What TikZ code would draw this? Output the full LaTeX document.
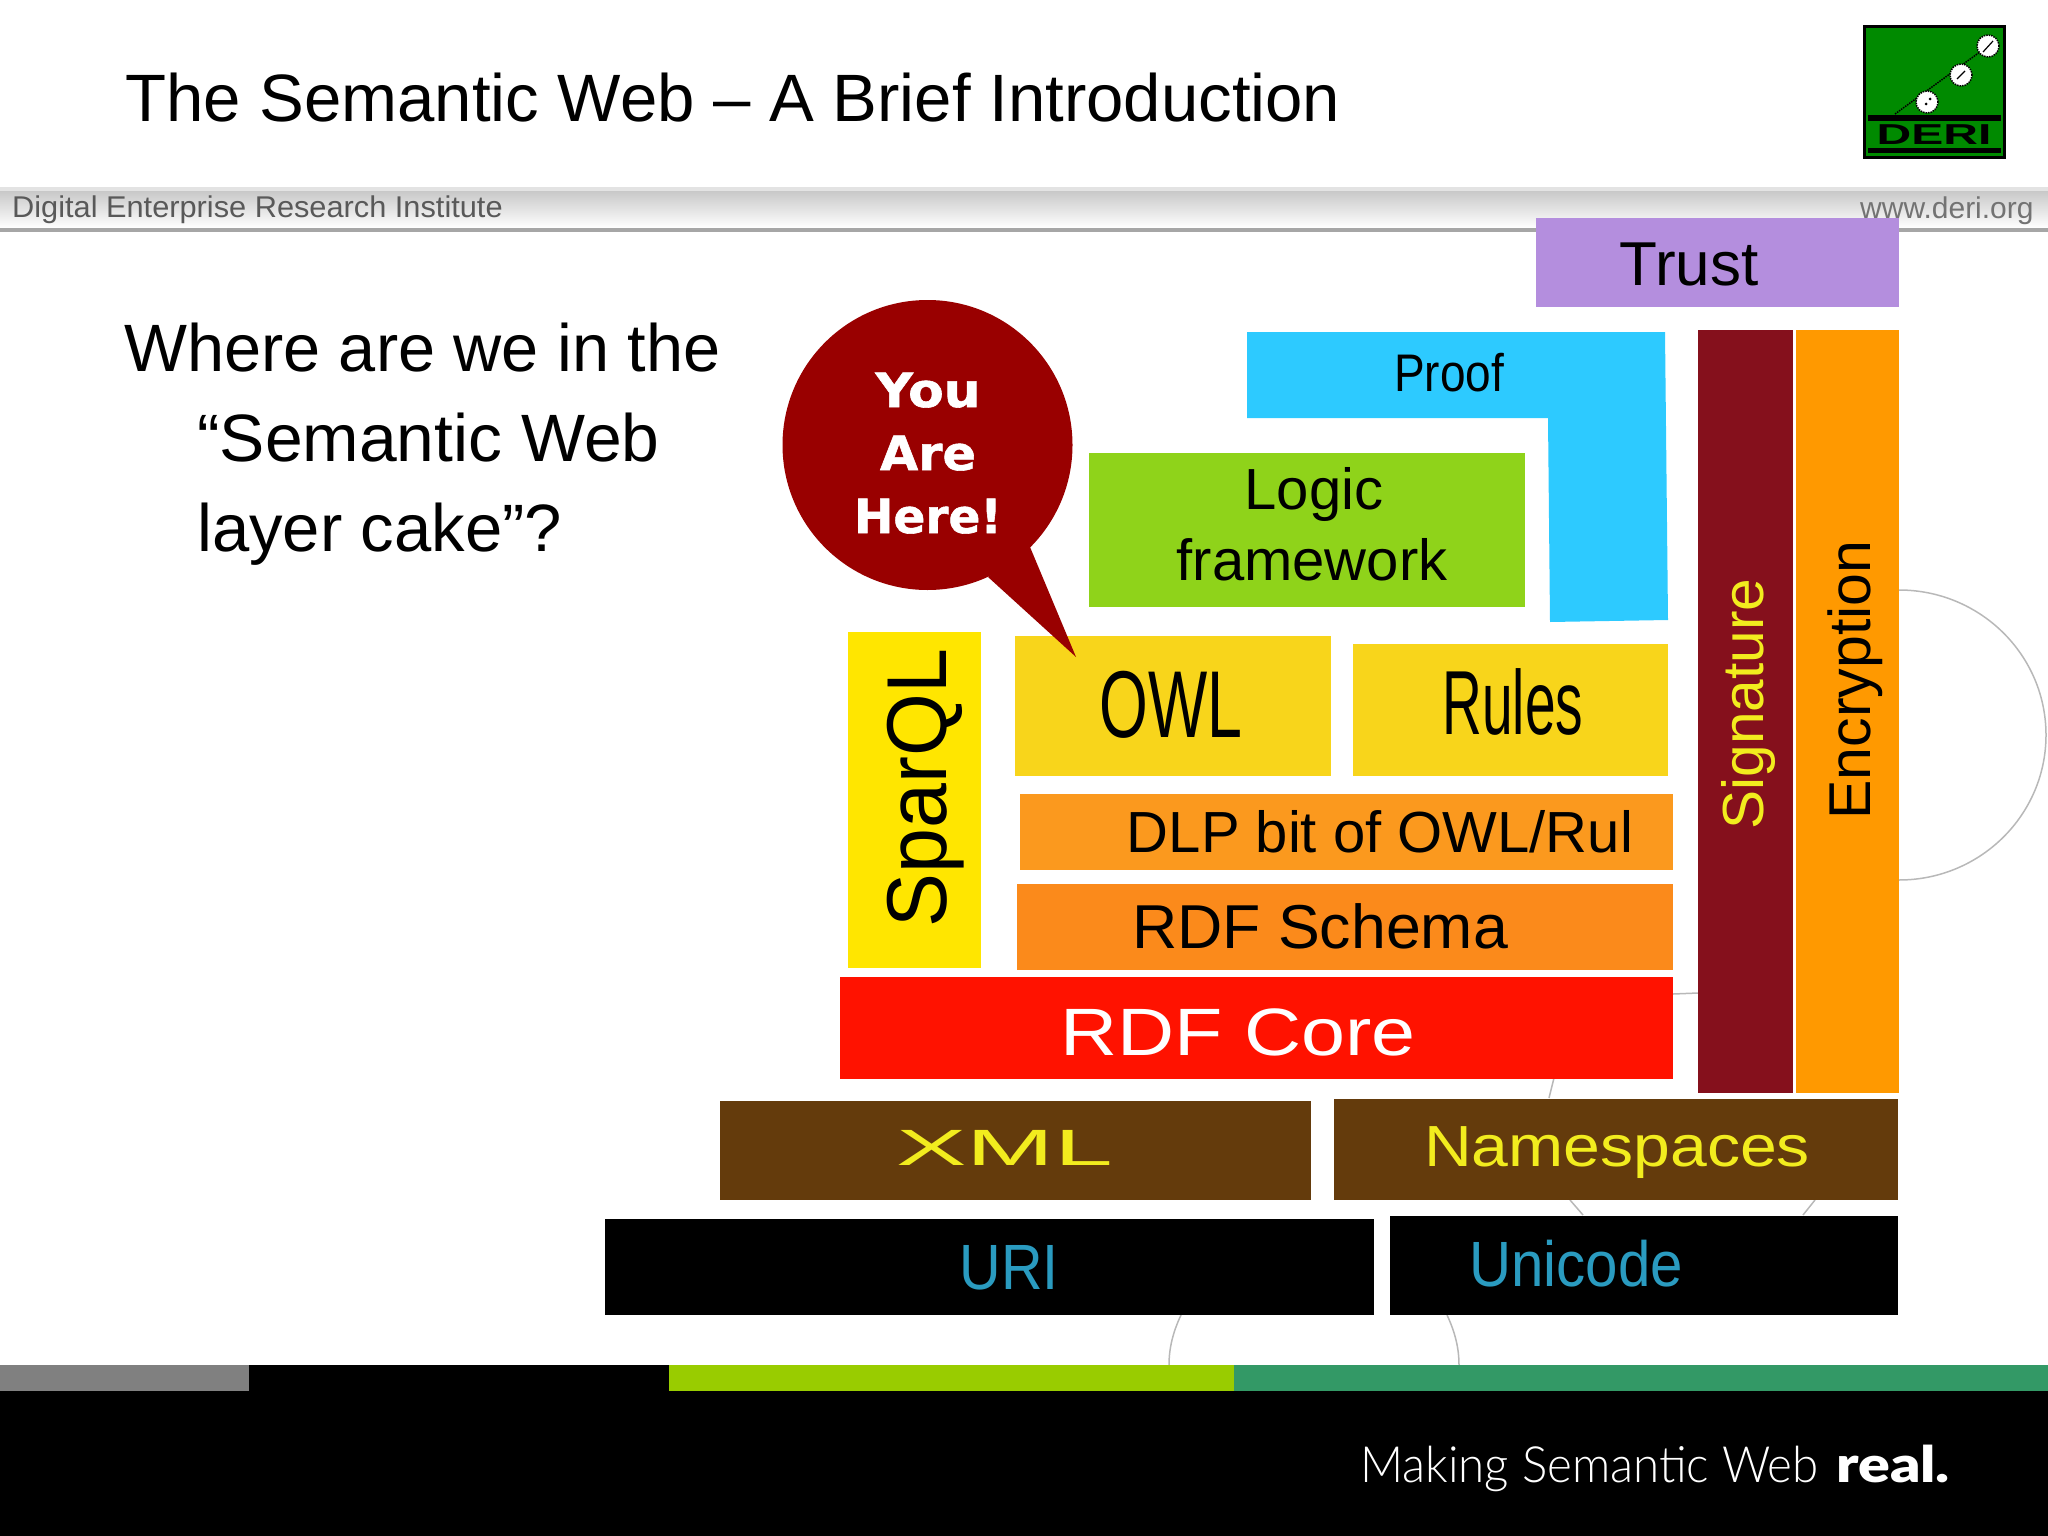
\documentclass[tikz,border=0pt]{standalone}
\usepackage{fontspec}
\usepackage{graphicx}
\setmainfont{Liberation Sans}
\newfontfamily\bubblefont[BoldFeatures={FakeBold=1.2}]{DejaVu Sans}
\newfontfamily\footfont{Lato Light}
\newfontfamily\footboldfont{Lato Black}
\definecolor{trustcol}{HTML}{B48EDE}
\definecolor{proofcol}{HTML}{2DCAFF}
\definecolor{logiccol}{HTML}{8FD31A}
\definecolor{sparqlcol}{HTML}{FFE600}
\definecolor{owlcol}{HTML}{F8D51B}
\definecolor{dlpcol}{HTML}{FB991E}
\definecolor{schemacol}{HTML}{FB8A1B}
\definecolor{corecol}{HTML}{FF1200}
\definecolor{signcol}{HTML}{85101C}
\definecolor{encrcol}{HTML}{FF9900}
\definecolor{browncol}{HTML}{643B0C}
\definecolor{yellowtext}{HTML}{F2EC1E}
\definecolor{bluetext}{HTML}{2A9BC0}
\definecolor{bubblecol}{HTML}{990000}
\definecolor{logocol}{HTML}{008A00}
\definecolor{stripgreen}{HTML}{99CC00}
\definecolor{stripteal}{HTML}{339966}
\begin{document}
\begin{tikzpicture}[x=1pt,y=-1pt,
    layer/.style 2 args={
        rectangle,
        inner sep=0pt,
        minimum width=#1pt,
        minimum height=#2pt},
    lab/.style={
        anchor=base,
        inner sep=0pt,
        font=\fontsize{#1}{#1}\selectfont},
    body/.style={
        anchor=base west,
        inner sep=0pt,
        font=\fontsize{67}{67}\selectfont},
    bgline/.style={
        draw=black!28,
        line width=1.5pt}
    ]

    \useasboundingbox (0,0) rectangle (2048,1536);

    % title and header band
    \node (title) [body] at (125,122) {\scalebox{1.002}[1]{The Semantic Web -- A Brief Introduction}};
    \fill [top color=black!22, bottom color=white] (0,190) rectangle (2048,228);
    \fill [black!11] (0,187) rectangle (2048,191);
    \fill [black!35] (0,228) rectangle (2048,232);
    \node (institute) [lab=30, anchor=base west, text=black!65] at (12,217) {\scalebox{1.025}[1]{Digital Enterprise Research Institute}};
    \node (website) [lab=30, anchor=base west, text=black!55] at (1860,218) {www.deri.org};

    % logo
    \node (logo) [layer={140}{131}, fill=logocol, draw=black, line width=3pt] at (1934.5,92) {};
    \fill (1868,115) rectangle (2001,121);
    \fill (1868,148) rectangle (2001,153);
    \draw [densely dotted, line width=1.5pt] (1895,114) -- (1988,46);
    \foreach \cx/\cy in {1988/46, 1961/75, 1927/102} {
        \fill [white, draw=black, densely dotted, line width=1.5pt] (\cx,\cy) circle [radius=11pt];
    }
    \draw [line width=1.2pt] (1983,52) -- (1993,41);
    \draw [line width=1.2pt] (1957,79) -- (1965,71);
    \fill (1926,104) circle [radius=1.5pt];
    \fill (1930,99) circle [radius=1.5pt];
    \node (deri) [lab=24, text=black] at (1934,145) {\scalebox{2}[1.2]{\bfseries DERI}};

    % left text
    \node (line1) [body] at (124,371) {\scalebox{.995}[1]{Where are we in the}};
    \node (line2) [body] at (197,461) {\scalebox{1.012}[1]{``Semantic Web}};
    \node (line3) [body] at (197,551) {layer cake''?};

    % circles behind the cake
    \draw [bgline] (1899,590) arc [start angle=90, end angle=-90, x radius=147pt, y radius=145pt];
    \draw [bgline] (1673,994) -- (1698,993);
    \draw [bgline] (1554,1078) -- (1549,1098);
    \draw [bgline] (1570,1200) -- (1583,1215);
    \draw [bgline] (1815,1200) -- (1803,1215);
    \draw [bgline] (1181,1315) .. controls (1173,1332) and (1169,1348) .. (1169,1365);
    \draw [bgline] (1447,1315) .. controls (1455,1332) and (1459,1348) .. (1459,1365);

    % layers
    \node (trust) [layer={363}{89}, fill=trustcol] at (1717.5,262.5) {};
    \fill [proofcol] (1247,332) -- (1665,332) -- (1668,620) -- (1550,622) -- (1548,418) -- (1247,418) -- cycle;
    \node (logic) [layer={436}{154}, fill=logiccol] at (1307,530) {};
    \node (sparql) [layer={133}{336}, fill=sparqlcol] at (914.5,800) {};
    \node (owl) [layer={316}{140}, fill=owlcol] at (1173,706) {};
    \node (rules) [layer={315}{132}, fill=owlcol] at (1510.5,710) {};
    \node (dlp) [layer={653}{76}, fill=dlpcol] at (1346.5,832) {};
    \node (schema) [layer={656}{86}, fill=schemacol] at (1345,927) {};
    \node (core) [layer={833}{102}, fill=corecol] at (1256.5,1028) {};
    \node (signature) [layer={95}{763}, fill=signcol] at (1745.5,711.5) {};
    \node (encryption) [layer={103}{763}, fill=encrcol] at (1847.5,711.5) {};
    \node (xml) [layer={591}{99}, fill=browncol] at (1015.5,1150.5) {};
    \node (namespaces) [layer={564}{101}, fill=browncol] at (1616,1149.5) {};
    \node (uri) [layer={769}{96}, fill=black] at (989.5,1267) {};
    \node (unicode) [layer={508}{99}, fill=black] at (1644,1265.5) {};

    % labels
    \node (trustlab) [lab=62] at (1689,285) {Trust};
    \node (prooflab) [lab=46] at (1449,391) {\scalebox{1}[1.15]{Proof}};
    \node (logiclab) [lab=58] at (1314,509) {Logic};
    \node (framelab) [lab=58] at (1312,580) {framework};
    \node (owllab) [lab=95] at (1171,737) {\scalebox{.66}[1]{OWL}};
    \node (ruleslab) [lab=91] at (1513,734) {\scalebox{.605}[1]{Rules}};
    \node (dlplab) [lab=58] at (1380,852) {DLP bit of OWL/Rul};
    \node (schemalab) [lab=62] at (1320,948) {\scalebox{1.01}[1]{RDF Schema}};
    \node (corelab) [lab=67, text=white] at (1238,1055) {\scalebox{1.18}[1]{RDF Core}};
    \node (xmllab) [lab=51, text=yellowtext] at (1005,1165) {\scalebox{2.07}[1]{XML}};
    \node (nslab) [lab=58, text=yellowtext] at (1617,1166) {\scalebox{1.14}[1]{Namespaces}};
    \node (urilab) [lab=64, text=bluetext] at (1009,1289) {\scalebox{.9}[1]{URI}};
    \node (unilab) [lab=64, text=bluetext] at (1576,1286) {\scalebox{.91}[1]{Unicode}};
    \node (signlab) [lab=58, text=yellowtext, rotate=90] at (1763,704) {\scalebox{1.01}[1]{Signature}};
    \node (encrlab) [lab=59, rotate=90] at (1870,680) {Encryption};
    \node (sparqllab) [lab=85, rotate=90] at (946,788) {\scalebox{.95}[1]{SparQL}};

    % bubble
    \coordinate (tip) at (1076,657);
    \fill [bubblecol] (988,577) -- (tip) -- (1030,547) -- cycle;
    \node (bubble) [circle, inner sep=0pt, minimum size=290pt, fill=bubblecol] at (927.5,445) {};
    \node (you) [lab=47, text=white] at (928,407) {\bubblefont\bfseries\scalebox{1.1}[1]{You}};
    \node (are) [lab=47, text=white] at (928,470) {\bubblefont\bfseries\scalebox{1.05}[1]{Are}};
    \node (here) [lab=47, text=white] at (928,533) {\bubblefont\bfseries Here!};

    % footer
    \fill (0,1365) rectangle (2048,1536);
    \fill [black!50] (0,1365) rectangle (249,1391);
    \fill [stripgreen] (669,1365) rectangle (1234,1391);
    \fill [stripteal] (1234,1365) rectangle (2048,1391);
    \node (slogan) [lab=50, anchor=base west, text=white] at (1360,1482) {\footfont\scalebox{.95}[1]{Making Semantic Web}};
    \node (sloganbold) [lab=50, anchor=base west, text=white] at (1836,1482) {\footboldfont\scalebox{1.18}[1]{real.}};

    \end{tikzpicture}
\end{document}
